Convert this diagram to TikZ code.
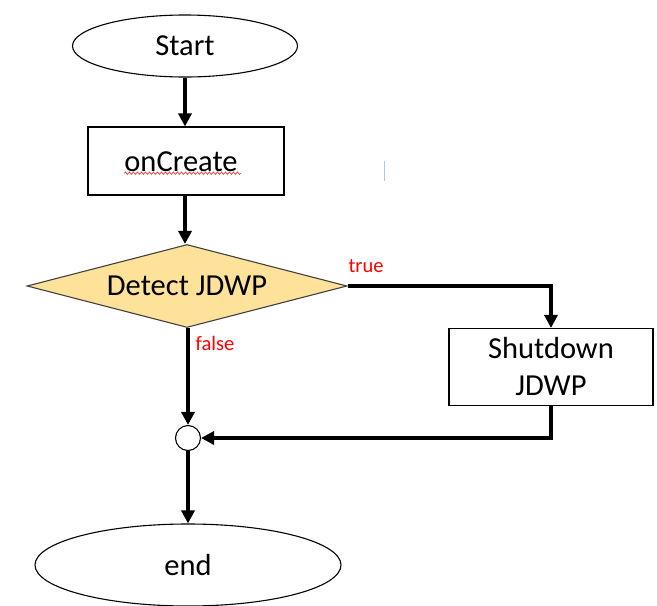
\documentclass[tikz,border=0pt]{standalone}
\usepackage{fontspec}
\setmainfont{Carlito}
\usetikzlibrary{shapes.geometric,arrows.meta,decorations.pathmorphing}
\definecolor{decfill}{RGB}{255,226,153}
\definecolor{lblred}{RGB}{255,0,0}
\definecolor{squig}{RGB}{235,80,80}
\definecolor{cursorblue}{RGB}{170,200,240}
\begin{document}
\begin{tikzpicture}[x=1pt,y=-1pt,
  base/.style={draw=black,line width=1.1pt,inner sep=0pt,font=\fontsize{30.5}{37}\selectfont,align=center},
  term/.style={base,ellipse},
  proc/.style={base,rectangle},
  dec/.style={base,diamond,shape aspect=3.86,fill=decfill,draw=black!75},
  joinc/.style={draw=black,line width=1.1pt,circle,minimum size=25pt,inner sep=0pt},
  flow/.style={line width=3.6pt,-{Triangle[length=13pt,width=13pt]}},
  lbl/.style={text=lblred,font=\fontsize{20.5}{24}\selectfont,inner sep=0pt}]
\useasboundingbox (0,0) rectangle (657,606);
\node[term,minimum width=225pt,minimum height=62pt] (start) at (185,46) {Start};
\node[proc,minimum width=196pt,minimum height=68pt] (oncreate) at (186,161) {};
\node[inner sep=0pt,font=\fontsize{30.5}{37}\selectfont] (octext) at (181,162) {onCreate};
\node[dec,minimum width=320pt,minimum height=83pt] (detect) at (187,286) {Detect JDWP};
\node[proc,minimum width=204pt,minimum height=77pt] (shut) at (551,367) {Shutdown\\JDWP};
\node[joinc] (join) at (188,438) {};
\node[term,minimum width=306pt,minimum height=82pt] (end) at (188,565) {end};
\node[lbl] (t) at (366,266) {true};
\node[lbl] (f) at (215,343) {false};
\draw[flow] (start.south) -- (start.south |- oncreate.north);
\draw[flow] (start.south |- oncreate.south) -- (start.south |- detect.north);
\draw[flow] (detect.east) -| (shut.north);
\draw[flow] (shut.south) |- (join.east);
\draw[flow] (join.north |- detect.south) -- (join.north);
\draw[flow] (join.south) -- (end.north);
\draw[squig,line width=0.8pt,decorate,decoration={snake,amplitude=1.2pt,segment length=4pt}] (octext.south west) ++(0,1) -- ++(117,0);
\draw[cursorblue,line width=1pt] (384,161) -- (384,181);
\end{tikzpicture}
\end{document}
